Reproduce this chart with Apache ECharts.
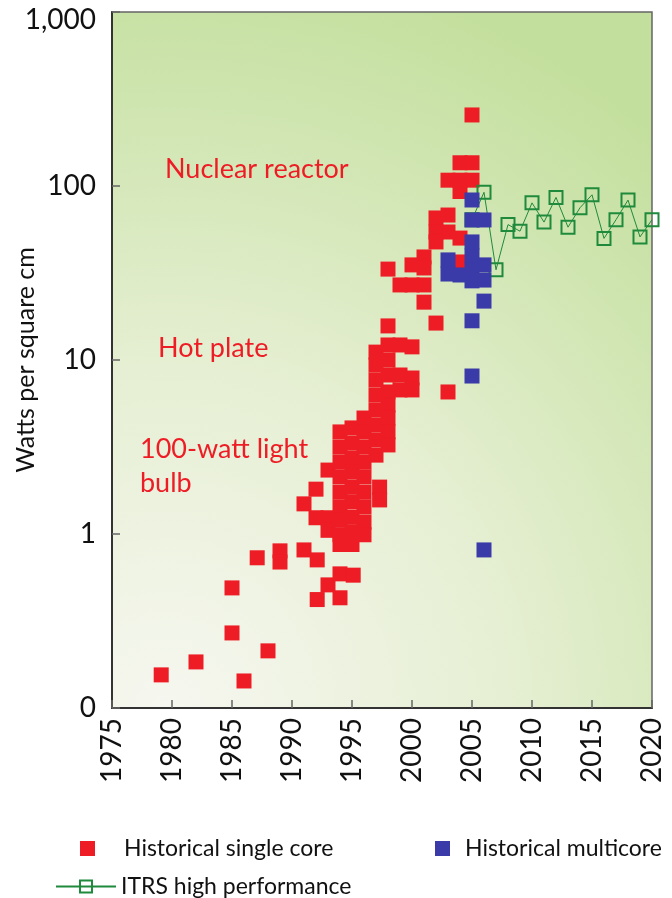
<!DOCTYPE html>
<html>
<head>
<meta charset="utf-8">
<script src="https://cdn.jsdelivr.net/npm/echarts@6/dist/echarts.min.js"></script>
<style>
html, body { margin: 0; padding: 0; background: #fff; }
#chart { width: 672px; height: 898px; }
</style>
</head>
<body>
<div id="chart"></div>
<script>
// power density data (watts per square cm)
const singleCoreYears = [
  1979.1, 1982, 1985, 1986, 1988, 1985, 1987.1, 1989, 1989, 1991, 1992.1, 1992.1, 1993, 1994, 1994, 1995.1,
  1991, 1992, 1992, 1993, 1993, 1993,
  1994, 1994, 1994, 1994, 1994, 1994, 1994, 1994, 1994,
  1995, 1995, 1995, 1995, 1995, 1995, 1995, 1995, 1995,
  1996, 1996, 1996, 1996, 1996, 1996, 1996, 1996, 1996,
  1997, 1997, 1997, 1997, 1997, 1997.3, 1997.3,
  1998, 1998, 1998, 1998, 1998,
  1997, 1997, 1997,
  1998, 1998, 1998, 1998, 1998,
  1999, 1999, 1999, 1999,
  2000, 2000, 2000, 2000, 2000,
  2001, 2001, 2001, 2002, 2003,
  2005, 2004, 2005, 2003, 2004, 2005, 2004,
  2002, 2003, 2002, 2003, 2002, 2004, 2004, 2001
];
const singleCoreWatts = [
  0.155, 0.184, 0.27, 0.143, 0.213, 0.49, 0.73, 0.8, 0.69, 0.81, 0.71, 0.42, 0.51, 0.59, 0.43, 0.58,
  1.49, 1.81, 1.24, 2.33, 1.24, 1.05,
  3.86, 3.16, 2.59, 2.13, 1.74, 1.43, 1.2, 0.99, 0.87,
  4.07, 3.33, 2.73, 2.27, 1.86, 1.53, 1.25, 1.03, 0.87,
  4.64, 3.86, 3.16, 2.59, 2.13, 1.74, 1.43, 1.17, 0.99,
  6.29, 5.16, 4.23, 3.47, 2.84, 1.86, 1.57,
  6.55, 5.51, 4.64, 3.86, 3.25,
  11.1, 9.36, 7.68,
  33.3, 15.7, 12.2, 10, 8.2,
  27, 12.2, 8.2, 6.73,
  35.2, 27, 11.9, 7.88, 6.73,
  39.1, 27, 21.5, 16.3, 6.55,
  256, 136, 136, 108, 108, 108, 93,
  65.5, 68.1, 54.4, 54.4, 47.7, 50.2, 36.6, 33.8
];
const multicoreYears = [2003, 2003, 2004, 2005, 2005, 2006, 2005, 2005, 2005, 2005, 2006, 2006, 2006, 2005, 2005, 2006];
const multicoreWatts = [37.6, 31.2, 30.8, 83.1, 63.8, 63.8, 47.7, 39.6, 32.9, 28.5, 35.2, 28.8, 21.8, 16.8, 8.09, 0.81];
const itrsYears = [2005, 2006, 2007, 2008, 2009, 2010, 2011, 2012, 2013, 2014, 2015, 2016, 2017, 2018, 2019, 2020];
const itrsWatts = [64, 92, 33, 60, 55, 80, 62, 86, 58, 75, 89, 50, 64, 83, 51, 64];

const yearTicks = { min: 1975, max: 2020, step: 5 };
const wattTicks = { min: 0.1, max: 1000 };

const FONT = 'Lato, "Open Sans", sans-serif';
const RED = '#ee1c25';
const BLUE = '#3a3aa8';
const GREEN = '#1f8a3c';

function pairs(xs, ys) {
  return xs.map((x, i) => [x, ys[i]]);
}

const chart = echarts.init(document.getElementById('chart'));

chart.setOption({
  animation: false,
  backgroundColor: '#fff',
  textStyle: { fontFamily: FONT },
  grid: {
    left: 112, top: 12, width: 540, height: 696,
    outerBoundsMode: 'none',
    containLabel: false,
    show: true,
    borderColor: '#666',
    borderWidth: 1.5,
    backgroundColor: {
      type: 'radial', x: 0.1, y: 1.0, r: 1.4,
      colorStops: [
        { offset: 0, color: '#f6f7f0' },
        { offset: 0.45, color: '#e6efd3' },
        { offset: 0.8, color: '#cfe5b0' },
        { offset: 1, color: '#c3df9d' }
      ]
    }
  },
  xAxis: {
    type: 'value',
    min: yearTicks.min, max: yearTicks.max, interval: yearTicks.step,
    splitLine: { show: false },
    axisLine: { lineStyle: { color: '#333', width: 2 } },
    axisTick: { inside: true, length: 8, lineStyle: { color: '#666', width: 1.5 } },
    axisLabel: {
      rotate: 90, margin: 10, color: '#111', fontSize: 28, fontFamily: FONT,
      formatter: (v) => String(v)
    }
  },
  yAxis: {
    type: 'log', logBase: 10,
    min: wattTicks.min, max: wattTicks.max,
    name: 'Watts per square cm',
    nameLocation: 'middle', nameGap: 74,
    nameMoveOverlap: false,
    nameTextStyle: { color: '#111', fontSize: 25, fontFamily: FONT },
    splitLine: { show: false },
    minorTick: { show: false },
    axisLine: { lineStyle: { color: '#333', width: 2 } },
    axisTick: { inside: true, length: 8, lineStyle: { color: '#666', width: 1.5 } },
    axisLabel: {
      margin: 16, color: '#111', fontSize: 28, fontFamily: FONT,
      formatter: (v) => (v < 0.5 ? '0' : v >= 1000 ? '{top|1,000}' : String(Math.round(v))),
      rich: {
        top: { fontSize: 28, fontFamily: FONT, color: '#111', padding: [16, 0, 0, 0] }
      }
    }
  },
  legend: [
    {
      data: ['Historical single core'], left: 75, top: 832,
      itemWidth: 15, itemHeight: 15,
      textStyle: { fontSize: 23, color: '#111', fontFamily: FONT, padding: [0, 0, 0, 24] }
    },
    {
      data: ['Historical multicore'], left: 430, top: 832,
      itemWidth: 15, itemHeight: 15,
      textStyle: { fontSize: 23, color: '#111', fontFamily: FONT, padding: [0, 0, 0, 10] }
    },
    {
      data: ['ITRS high performance'], left: 50, top: 870,
      itemWidth: 60, itemHeight: 15,
      textStyle: { fontSize: 23, color: '#111', fontFamily: FONT, padding: [0, 0, 0, 0] }
    }
  ],
  graphic: [
    { type: 'text', left: 165, top: 156, style: { text: 'Nuclear reactor', fill: RED, font: '27px ' + FONT } },
    { type: 'text', left: 158, top: 335, style: { text: 'Hot plate', fill: RED, font: '27px ' + FONT } },
    { type: 'text', left: 140, top: 436, style: { text: '100-watt light', fill: RED, font: '27px ' + FONT } },
    { type: 'text', left: 140, top: 470, style: { text: 'bulb', fill: RED, font: '27px ' + FONT } }
  ],
  series: [
    {
      name: 'Historical single core',
      type: 'scatter',
      symbol: 'rect', symbolSize: 15,
      itemStyle: { color: RED, opacity: 1 },
      data: pairs(singleCoreYears, singleCoreWatts),
      z: 2
    },
    {
      name: 'ITRS high performance',
      type: 'line',
      symbol: 'rect', symbolSize: 13,
      showAllSymbol: true,
      clip: false,
      lineStyle: { color: GREEN, width: 1 },
      itemStyle: { color: 'rgba(0,0,0,0)', borderColor: GREEN, borderWidth: 2 },
      data: pairs(itrsYears, itrsWatts),
      z: 3
    },
    {
      name: 'Historical multicore',
      type: 'scatter',
      symbol: 'rect', symbolSize: 15,
      itemStyle: { color: BLUE, opacity: 1 },
      data: pairs(multicoreYears, multicoreWatts),
      z: 4
    }
  ]
});
</script>
</body>
</html>
